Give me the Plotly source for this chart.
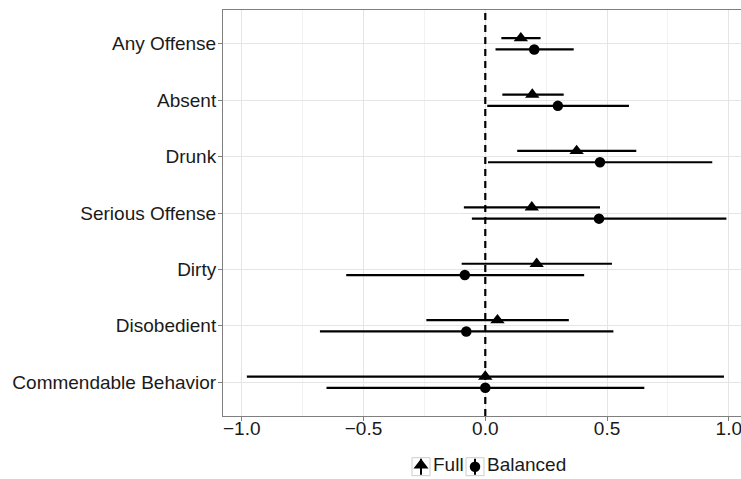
import plotly.graph_objects as go

# ---- data ----
categories = ["Any Offense", "Absent", "Drunk", "Serious Offense", "Dirty",
              "Disobedient", "Commendable Behavior"]

full_est = [0.146, 0.193, 0.375, 0.191, 0.211, 0.050, 0.000]
full_lo = [0.066, 0.070, 0.131, -0.088, -0.097, -0.242, -0.979]
full_hi = [0.227, 0.322, 0.620, 0.471, 0.520, 0.343, 0.980]

bal_est = [0.201, 0.298, 0.471, 0.467, -0.084, -0.078, 0.000]
bal_lo = [0.042, 0.008, 0.011, -0.055, -0.571, -0.679, -0.652]
bal_hi = [0.363, 0.590, 0.932, 0.990, 0.406, 0.526, 0.653]

x_ticks = [-1.0, -0.5, 0.0, 0.5, 1.0]
ref_line = 0.0
dodge = 0.1

series_names = ["Full", "Balanced"]
series_symbols = ["triangle-up", "circle"]
series_sizes = [12.5, 10.5]

# ---- layout constants (pixels) ----
W, H = 741, 479
L, T = 223, 10
PLOT_BOTTOM = 416
FONT = "Liberation Sans, Arial, sans-serif"
FS = 19

# legend (drawn on its own pixel-scaled axes below the panel)
LEG_KEY_X = [421, 475]
LEG_Y = 466.7
LEG_BOX = 18

n = len(categories)
ypos = [n - i for i in range(n)]  # first category on top

fig = go.Figure()


def add_series(name, est, lo, hi, offset, symbol, size):
    fig.add_trace(go.Scatter(
        x=est,
        y=[p + offset for p in ypos],
        mode="markers",
        name=name, showlegend=False,
        marker=dict(symbol=symbol, size=size, color="black",
                    line=dict(width=0)),
        error_x=dict(type="data", symmetric=False,
                     array=[h - e for h, e in zip(hi, est)],
                     arrayminus=[e - l for e, l in zip(est, lo)],
                     color="black", thickness=2.2, width=0),
    ))


add_series(series_names[0], full_est, full_lo, full_hi, dodge,
           series_symbols[0], series_sizes[0])
add_series(series_names[1], bal_est, bal_lo, bal_hi, -dodge,
           series_symbols[1], series_sizes[1])

fig.add_vline(x=ref_line, line=dict(color="black", width=2.2, dash="7px,5px"),
              layer="above")

# ---- custom legend with boxed keys ----
fig.add_trace(go.Scatter(
    x=LEG_KEY_X, y=[LEG_Y] * 2, mode="markers", xaxis="x2", yaxis="y2",
    showlegend=False, hoverinfo="skip",
    marker=dict(symbol="square", size=LEG_BOX, color="white",
                line=dict(color="#CCCCCC", width=1)),
))
stem_x, stem_y = [], []
for kx in LEG_KEY_X:
    stem_x += [kx, kx, None]
    stem_y += [LEG_Y - LEG_BOX / 2 + 1, LEG_Y + LEG_BOX / 2 - 1, None]
fig.add_trace(go.Scatter(
    x=stem_x, y=stem_y, mode="lines", xaxis="x2", yaxis="y2",
    showlegend=False, hoverinfo="skip",
    line=dict(color="black", width=2),
))
for kx, sym, sz in zip(LEG_KEY_X, series_symbols, [13, 10.5]):
    fig.add_trace(go.Scatter(
        x=[kx], y=[LEG_Y - (1.5 if sym == "triangle-up" else 0)],
        mode="markers", xaxis="x2", yaxis="y2",
        showlegend=False, hoverinfo="skip",
        marker=dict(symbol=sym, size=sz, color="black", line=dict(width=0)),
    ))
fig.add_trace(go.Scatter(
    x=[kx + LEG_BOX / 2 + 3 for kx in LEG_KEY_X], y=[LEG_Y] * 2,
    mode="text", text=series_names, textposition="middle right",
    xaxis="x2", yaxis="y2", showlegend=False, hoverinfo="skip",
    textfont=dict(family=FONT, size=FS, color="#1a1a1a"),
))

main_bottom = (H - PLOT_BOTTOM) / (H - T)

fig.update_layout(
    width=W, height=H,
    margin=dict(l=L, r=0, t=T, b=0, autoexpand=False),
    paper_bgcolor="white", plot_bgcolor="white",
    font=dict(family=FONT, size=FS, color="#1a1a1a"),
    showlegend=False,
    xaxis=dict(
        domain=[0, 1], anchor="y",
        range=[-1.077, 1.050],
        automargin=False,
        tickvals=x_ticks,
        ticktext=[f"{v:.1f}".replace("-", "\u2212") for v in x_ticks],
        ticklabeloverflow="allow", ticklabelstandoff=-9,
        showgrid=True, gridcolor="#E5E5E5", gridwidth=1,
        minor=dict(tickvals=[-0.75, -0.25, 0.25, 0.75], showgrid=True,
                   gridcolor="#F2F2F2", gridwidth=1, ticks=""),
        zeroline=False,
        showline=True, linecolor="#7f7f7f", linewidth=1, mirror=True,
        ticks="outside", ticklen=4, tickcolor="#7f7f7f", tickwidth=1,
        tickfont=dict(size=FS, color="#1a1a1a"),
    ),
    yaxis=dict(
        domain=[main_bottom, 1], anchor="x",
        range=[0.4, n + 0.6],
        automargin=False,
        tickvals=ypos, ticktext=categories,
        ticklabelstandoff=-2,
        showgrid=True, gridcolor="#E5E5E5", gridwidth=1,
        zeroline=False,
        showline=True, linecolor="#7f7f7f", linewidth=1, mirror=False,
        ticks="outside", ticklen=4, tickcolor="#7f7f7f", tickwidth=1,
        tickfont=dict(size=FS, color="#1a1a1a"),
    ),
    xaxis2=dict(domain=[0, 1], anchor="y2", range=[L, W], visible=False,
                fixedrange=True),
    yaxis2=dict(domain=[0, main_bottom], anchor="x2", range=[H, PLOT_BOTTOM],
                visible=False, fixedrange=True),
)

fig.write_html("out.html",
               config={"displayModeBar": False},
               post_script="document.body.style.margin='0';"
                           "document.body.style.overflow='hidden';")
